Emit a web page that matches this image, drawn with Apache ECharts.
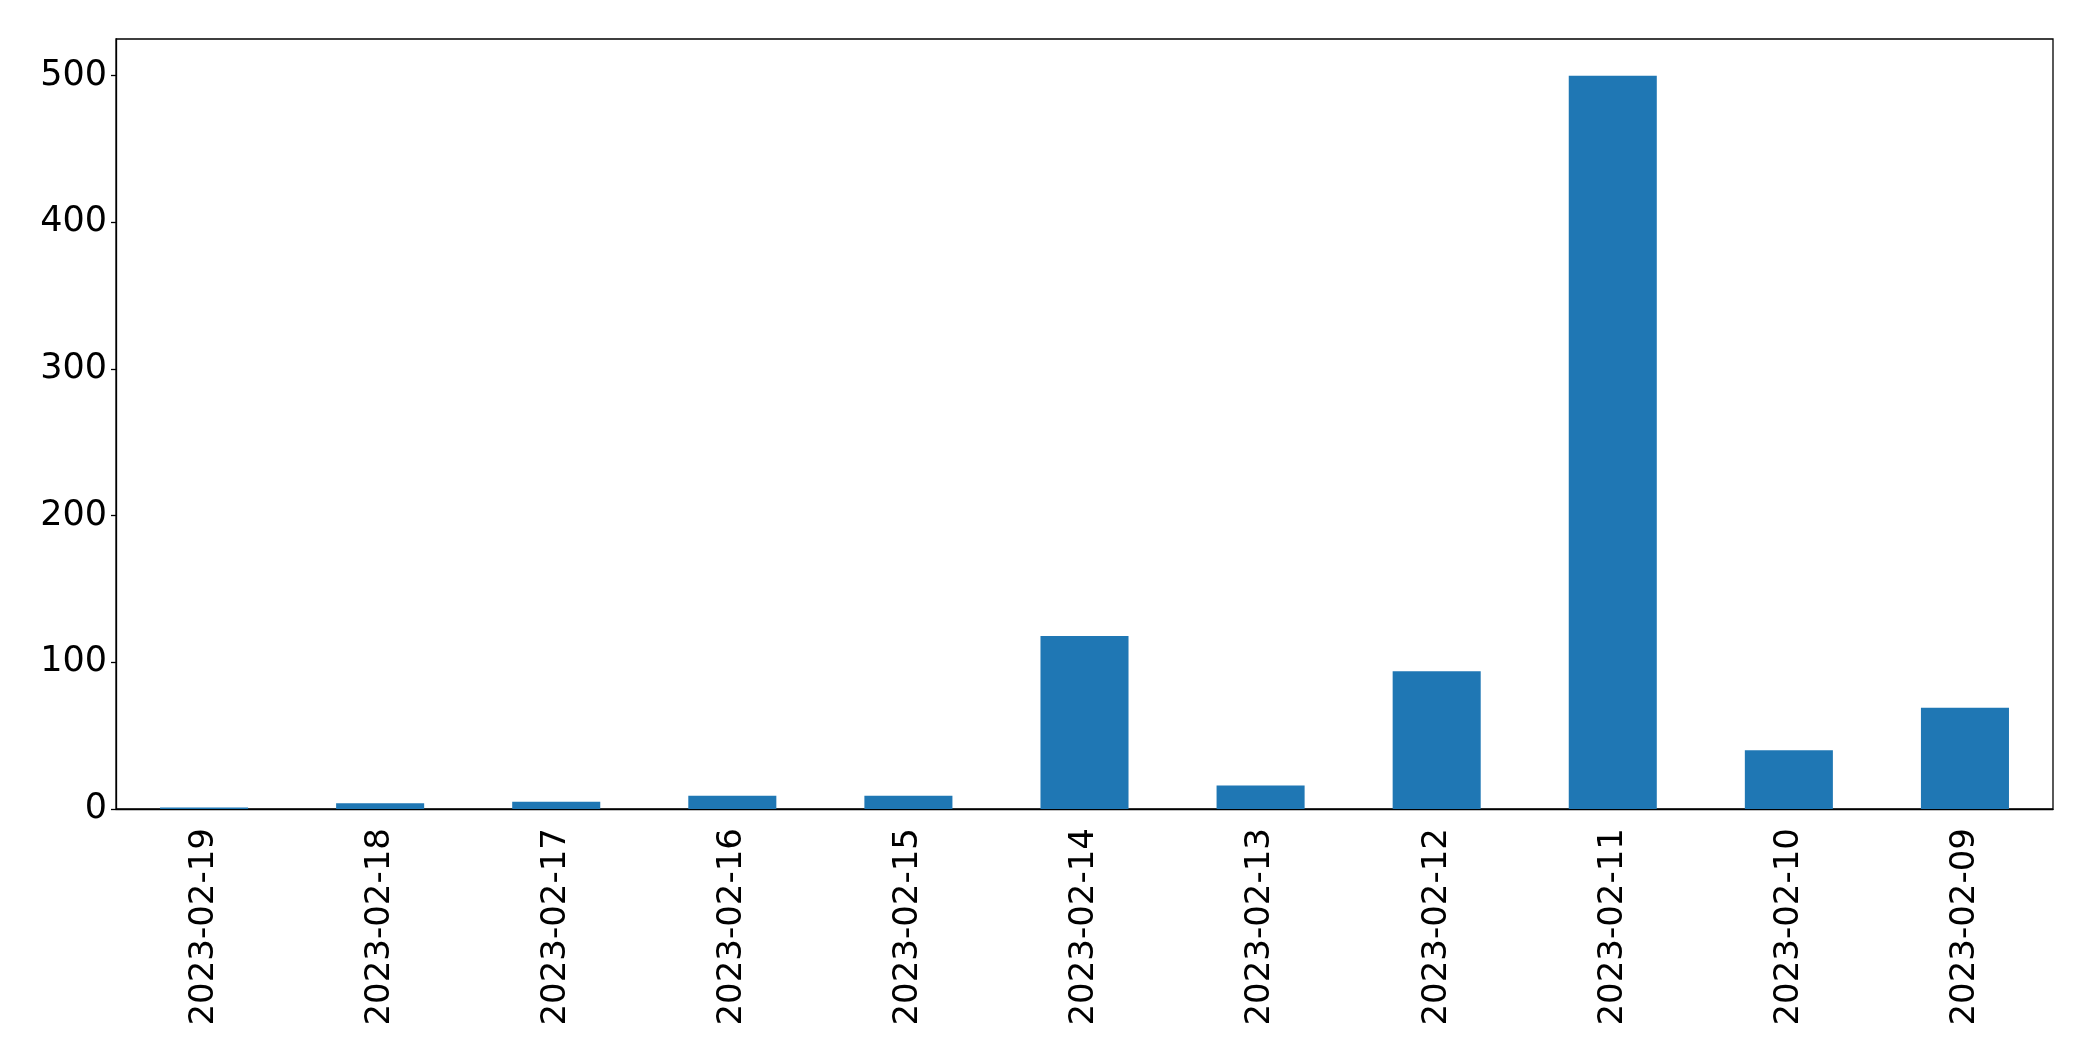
<!DOCTYPE html>
<html>
<head>
<meta charset="utf-8">
<script src="https://cdn.jsdelivr.net/npm/echarts@6/dist/echarts.min.js"></script>
<style>
html,body{margin:0;padding:0;background:#fff;}
#chart{width:2093px;height:1061px;}
</style>
</head>
<body>
<div id="chart"></div>
<script>
const categories = ["2023-02-19","2023-02-18","2023-02-17","2023-02-16","2023-02-15","2023-02-14","2023-02-13","2023-02-12","2023-02-11","2023-02-10","2023-02-09"];
const values = [1, 4, 5, 9, 9, 118, 16, 94, 500, 40, 69];
const yTicks = [0, 100, 200, 300, 400, 500];

const chart = echarts.init(document.getElementById('chart'), null, {renderer: 'canvas'});
const font = '"DejaVu Sans", sans-serif';
chart.setOption({
  animation: false,
  backgroundColor: '#fff',
  grid: {
    left: 116, right: 40, top: 39, bottom: 252,
    show: true, borderColor: '#000', borderWidth: 1.3, backgroundColor: 'transparent'
  },
  xAxis: {
    type: 'category',
    data: categories,
    axisLine: {lineStyle: {color: '#000', width: 1.3}},
    axisTick: {alignWithLabel: true, length: 5, lineStyle: {color: '#000', width: 1.3}},
    axisLabel: {rotate: 90, margin: 19, color: '#000', fontSize: 34, fontFamily: font, interval: 0}
  },
  yAxis: {
    type: 'value',
    min: 0, max: 525,
    axisLine: {show: true, lineStyle: {color: '#000', width: 1.3}},
    axisTick: {show: true, length: 5, lineStyle: {color: '#000', width: 1.3}, customValues: yTicks},
    axisLabel: {margin: 9, color: '#000', fontSize: 35, fontFamily: font, customValues: yTicks},
    splitLine: {show: false}
  },
  series: [{
    type: 'bar',
    data: values,
    barWidth: '50%',
    itemStyle: {color: '#1f77b4'}
  }]
});
</script>
</body>
</html>
